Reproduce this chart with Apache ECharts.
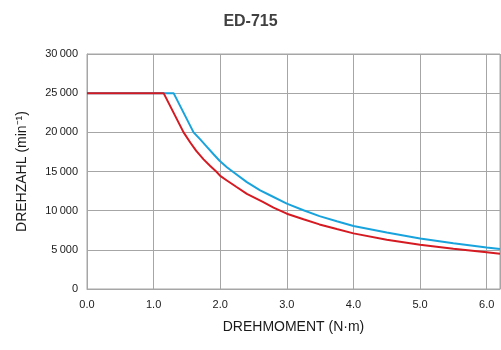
<!DOCTYPE html>
<html><head><meta charset="utf-8">
<script src="https://cdn.jsdelivr.net/npm/echarts@6/dist/echarts.min.js"></script>
<style>html,body{margin:0;padding:0;background:#fff}#c{width:501px;height:350px}</style>
</head><body><div id="c"></div>
<script>
const titleText = 'ED-715';
const xName = 'DREHMOMENT (N·m)';
const yName = 'DREHZAHL (min⁻¹)';
const redTorque = [0, 1.15, 1.45, 1.55, 1.64, 1.75, 1.85, 1.94, 2.0, 2.1, 2.24, 2.4, 2.64, 2.8, 3.0, 3.25, 3.49, 3.75, 4.0, 4.5, 5.0, 5.5, 6.0, 6.2];
const redSpeed  = [25000, 25000, 20000, 18700, 17625, 16550, 15700, 15000, 14440, 13850, 13050, 12150, 11125, 10400, 9615, 8900, 8244, 7650, 7100, 6300, 5650, 5150, 4700, 4500];
const blueTorque = [0, 1.3, 1.6, 1.7, 1.8, 1.9, 1.99, 2.1, 2.2, 2.4, 2.6, 2.74, 3.0, 3.25, 3.49, 3.75, 4.0, 4.5, 5.0, 5.5, 6.0, 6.2];
const blueSpeed  = [25000, 25000, 20000, 19100, 18150, 17200, 16375, 15550, 14900, 13650, 12600, 12000, 10900, 10050, 9308, 8650, 8050, 7200, 6450, 5850, 5300, 5100];

const chart = echarts.init(document.getElementById('c'));
const zip = (a, b) => a.map((v, i) => [v, b[i]]);
const fmtY = v => v >= 1000 ? Math.floor(v/1000) + '\u2009' + String(v % 1000).padStart(3, '0') : String(v);
chart.setOption({
  animation: false,
  title: {text: titleText, left: 'center', top: 9, textStyle: {fontFamily: 'Liberation Sans, Arial', fontWeight: 'bold', fontSize: 16, color: '#404040'}},
  grid: {left: 87, right: 1, top: 54, bottom: 61, show: true, borderColor: '#a6a6a6', borderWidth: 1},
  xAxis: {
    type: 'value', min: 0, max: 6.2, interval: 1,
    name: xName, nameLocation: 'middle', nameGap: 31,
    nameTextStyle: {fontFamily: 'Liberation Sans, Arial', fontSize: 14, color: '#1a1a1a'},
    axisLine: {show: true, lineStyle: {color: '#a6a6a6'}},
    axisTick: {show: false},
    axisLabel: {showMaxLabel: false, formatter: v => v.toFixed(1), fontFamily: 'Liberation Sans, Arial', fontSize: 11, color: '#1a1a1a', margin: 10},
    splitLine: {show: true, lineStyle: {color: '#a6a6a6', width: 1}}
  },
  yAxis: {
    type: 'value', min: 0, max: 30000, interval: 5000,
    name: yName, nameLocation: 'middle', nameGap: 58, nameRotate: 90,
    nameTextStyle: {fontFamily: 'Liberation Sans, Arial', fontSize: 14, color: '#1a1a1a'},
    axisLine: {show: true, lineStyle: {color: '#a6a6a6'}},
    axisTick: {show: false},
    axisLabel: {formatter: fmtY, fontFamily: 'Liberation Sans, Arial', fontSize: 11, color: '#1a1a1a', margin: 9},
    splitLine: {show: true, lineStyle: {color: '#a6a6a6', width: 1}}
  },
  series: [
    {type: 'line', data: zip(blueTorque, blueSpeed), smooth: false, showSymbol: false, lineStyle: {color: '#19a3dd', width: 2}, z: 3},
    {type: 'line', data: zip(redTorque, redSpeed), smooth: false, showSymbol: false, lineStyle: {color: '#d51a22', width: 2}, z: 4}
  ]
});
</script></body></html>
